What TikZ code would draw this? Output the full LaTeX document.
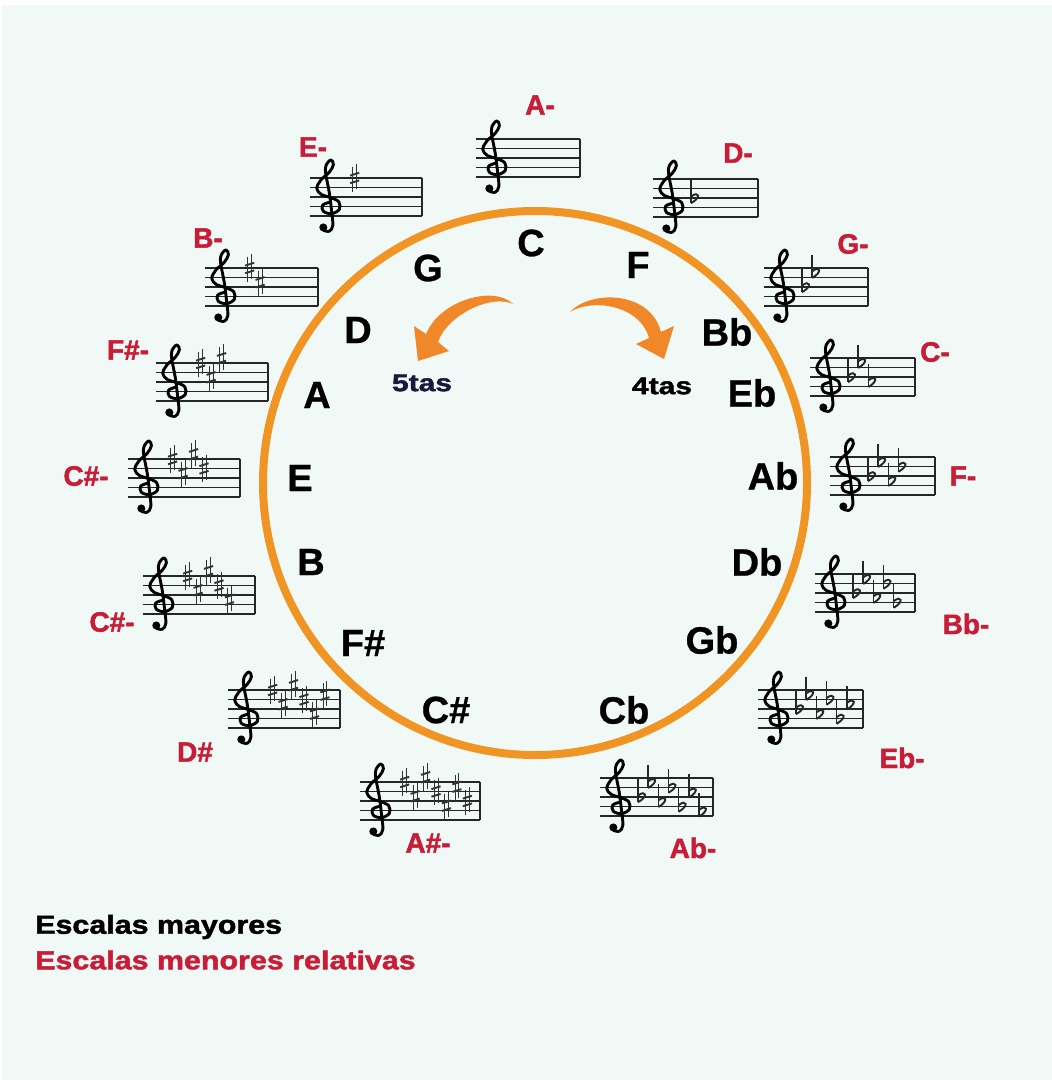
\documentclass[tikz,border=0pt]{standalone}
\usepackage{fontspec}
\setmainfont{Liberation Sans}
\newfontfamily\heavyfont[BoldFeatures={FakeBold=1.6}]{Liberation Sans}
\newfontfamily\semifont[BoldFeatures={FakeBold=0.8}]{Liberation Sans}
\usetikzlibrary{arrows.meta}
\definecolor{bg}{RGB}{240,249,245}
\definecolor{ringc}{RGB}{240,148,36}
\definecolor{minred}{RGB}{200,28,55}
\definecolor{arrowor}{RGB}{240,135,40}
\definecolor{navy}{RGB}{25,25,60}
\tikzset{
  major/.style={font=\semifont\fontsize{38}{38}\selectfont\bfseries, text=black, inner sep=0pt},
  minor/.style={font=\heavyfont\fontsize{28}{28}\selectfont\bfseries, text=minred, inner sep=0pt},
  tas/.style={font=\heavyfont\fontsize{24}{24}\selectfont\bfseries, inner sep=0pt, xscale=1.25},
  legend/.style={font=\heavyfont\fontsize{26}{26}\selectfont\bfseries, inner sep=0pt, anchor=west, xscale=1.17},
  staffline/.style={line width=1.2pt, black!85},
  clefline/.style={line width=2.9pt, black, line cap=round, line join=round},
  sharpv/.style={line width=0.8pt, black!80},
  sharpb/.style={line width=1.9pt, black!80},
  flatline/.style={line width=1.5pt, black!85},
  arrowshape/.style={fill=arrowor, draw=none}
}
% #1 x, #2 y (top line), #3 length px, #4 type s/f, #5 count
\newcommand{\kstaff}[5]{%
  \begin{scope}[shift={(#1,#2)}, scale=9.5]
    \foreach \ln in {0,...,4} \draw[staffline] (0,\ln) -- ({#3/9.5},\ln);
    \draw[staffline] ({#3/9.5},0) -- ({#3/9.5},4);
    \begin{scope}[shift={(1.9,0)}, xscale=1.25]
      \draw[clefline] plot[smooth, tension=0.6] coordinates {(0.15,2.55) (-0.45,2.85) (-0.4,3.5) (0.3,3.75) (0.95,3.3) (0.9,2.5) (0.2,2.05) (-0.55,1.75) (-0.95,1.1) (-0.6,0.2) (0.1,-0.6) (0.45,-1.4) (0.25,-1.9) (-0.15,-1.4) (-0.2,-0.5) (0.1,1.5) (0.3,3.5) (0.4,5.0) (0.1,5.6) (-0.4,5.5)};
      \fill (-0.4,5.2) ellipse [x radius=0.34, y radius=0.42];
    \end{scope}
    \if s#4
      \foreach \p [count=\i from 0] in {0,3,-1,2,5,1,4} {
        \ifnum\i<#5
        \begin{scope}[shift={({4.7+1.1*\i},{\p/2})}]
          \draw[sharpv] (-0.2,-1.2) -- (-0.2,1.45);
          \draw[sharpv] (0.2,-1.45) -- (0.2,1.2);
          \draw[sharpb] (-0.48,-0.25) -- (0.48,-0.55);
          \draw[sharpb] (-0.48,0.55) -- (0.48,0.25);
        \end{scope}
        \fi
      }
    \else
      \foreach \p [count=\i from 0] in {4,1,5,2,6,3,7} {
        \ifnum\i<#5
        \begin{scope}[shift={({4.3+1.07*\i},{\p/2})}]
          \draw[flatline] (-0.3,-1.9) -- (-0.3,0.55);
          \draw[flatline, line width=1.9pt] (-0.3,0.55) .. controls (0.8,-0.05) and (0.55,-0.8) .. (-0.3,-0.15);
        \end{scope}
        \fi
      }
    \fi
  \end{scope}}
\begin{document}
\begin{tikzpicture}[x=1pt, y=-1pt]
  \useasboundingbox (0,0) rectangle (1052,1080);
  \fill[bg] (2,5) rectangle (1052,1080);
  % ring
  \draw[ringc, line width=8pt] (535,483) circle (272);
  % arrows
  \fill[arrowshape] (513,304) .. controls (494,285) and (440,300) .. (426,334) -- (414,326) -- (418,361) -- (449,351) -- (438,342) .. controls (448,314) and (492,294) .. (513,304) -- cycle;
  \fill[arrowshape] (570,312) .. controls (590,290) and (650,290) .. (661,332) -- (674,326) -- (664,359) -- (636,344) -- (649,338) .. controls (640,305) and (592,298) .. (570,312) -- cycle;
  \node[tas, text=navy] (five) at (422,383) {5tas};
  \node[tas, text=black] (four) at (662,386) {4tas};
  % major keys
  \node[major] (kC) at (531,243) {C};
  \node[major] (kG) at (428,268) {G};
  \node[major] (kF) at (638,265) {F};
  \node[major] (kD) at (358,330) {D};
  \node[major] (kBb) at (727,332) {Bb};
  \node[major] (kA) at (317,395) {A};
  \node[major] (kEb) at (752,393) {Eb};
  \node[major] (kE) at (300,478) {E};
  \node[major] (kAb) at (773,476) {Ab};
  \node[major] (kB) at (311,562) {B};
  \node[major] (kDb) at (757,562) {Db};
  \node[major] (kFs) at (363,643) {F\#};
  \node[major] (kGb) at (712,640) {Gb};
  \node[major] (kCs) at (446,710) {C\#};
  \node[major] (kCb) at (624,710) {Cb};
  % minor keys
  \node[minor] (mA) at (540,105) {A-};
  \node[minor] (mE) at (313,147) {E-};
  \node[minor] (mD) at (738,153) {D-};
  \node[minor] (mB) at (208,238) {B-};
  \node[minor] (mG) at (853,244) {G-};
  \node[minor] (mFs) at (128,350) {F\#-};
  \node[minor] (mC) at (935,352) {C-};
  \node[minor] (mCs) at (86,476) {C\#-};
  \node[minor] (mF) at (963,476) {F-};
  \node[minor] (mCs2) at (112,622) {C\#-};
  \node[minor] (mBb) at (966,624) {Bb-};
  \node[minor] (mDs) at (195,752) {D\#};
  \node[minor] (mEb) at (902,758) {Eb-};
  \node[minor] (mAs) at (428,843) {A\#-};
  \node[minor] (mAb) at (693,848) {Ab-};
  % staves
  \kstaff{476}{139}{104}{s}{0}
  \kstaff{310}{178}{112}{s}{1}
  \kstaff{653}{179}{105}{f}{1}
  \kstaff{205}{268}{113}{s}{2}
  \kstaff{764}{268}{104}{f}{2}
  \kstaff{156}{363}{112}{s}{3}
  \kstaff{810}{358}{105}{f}{3}
  \kstaff{128}{459}{112}{s}{4}
  \kstaff{830}{457}{105}{f}{4}
  \kstaff{143}{576}{112}{s}{5}
  \kstaff{815}{574}{100}{f}{5}
  \kstaff{228}{690}{112}{s}{6}
  \kstaff{758}{690}{105}{f}{6}
  \kstaff{360}{782}{120}{s}{7}
  \kstaff{600}{778}{113}{f}{7}
  % legend
  \node[legend, text=black] (leg1) at (35,927) {Escalas mayores};
  \node[legend, text=minred] (leg2) at (35,960) {Escalas menores relativas};
\end{tikzpicture}
\end{document}
